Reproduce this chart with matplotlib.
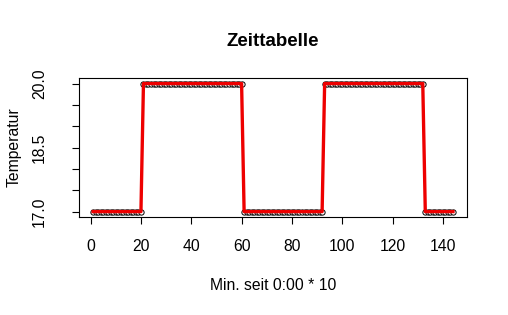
import matplotlib
matplotlib.use("Agg")
import matplotlib.pyplot as plt

# temperature schedule, one value per 10 minutes
minutes = list(range(1, 145))
temps = [17.0] * 20 + [20.0] * 40 + [17.0] * 32 + [20.0] * 40 + [17.0] * 12

x_ticks = [0, 20, 40, 60, 80, 100, 120, 140]
y_ticks = [17.0, 17.5, 18.0, 18.5, 19.0, 19.5, 20.0]
y_labels = ["17.0", "", "", "18.5", "", "", "20.0"]

plt.rcParams["font.family"] = ["Liberation Sans", "DejaVu Sans"]

fig = plt.figure(figsize=(5.08, 3.15), dpi=100)
ax = fig.add_axes([0.155, 0.312, 0.765, 0.439])

ax.plot(minutes, temps, "o", mfc="white", mec="black", ms=3.8, mew=0.7)
ax.plot(minutes, temps, color="#ee0000", lw=2.4)

ax.set_xlim(-4.72, 149.72)
ax.set_ylim(16.88, 20.12)
ax.set_xticks(x_ticks)
ax.set_yticks(y_ticks)
ax.set_yticklabels(y_labels, rotation=90, va="center")
ax.tick_params(direction="out", length=5, width=0.8, labelsize=11.3)
ax.tick_params(axis="x", pad=11)
ax.tick_params(axis="y", pad=18)

ax.set_title("Zeittabelle", fontsize=13.5, fontweight="bold", pad=23)
ax.set_xlabel("Min. seit 0:00 * 10", fontsize=11.3, labelpad=17)
ax.set_ylabel("Temperatur", fontsize=11.3, labelpad=7)

fig.savefig("out.png", dpi=100)
